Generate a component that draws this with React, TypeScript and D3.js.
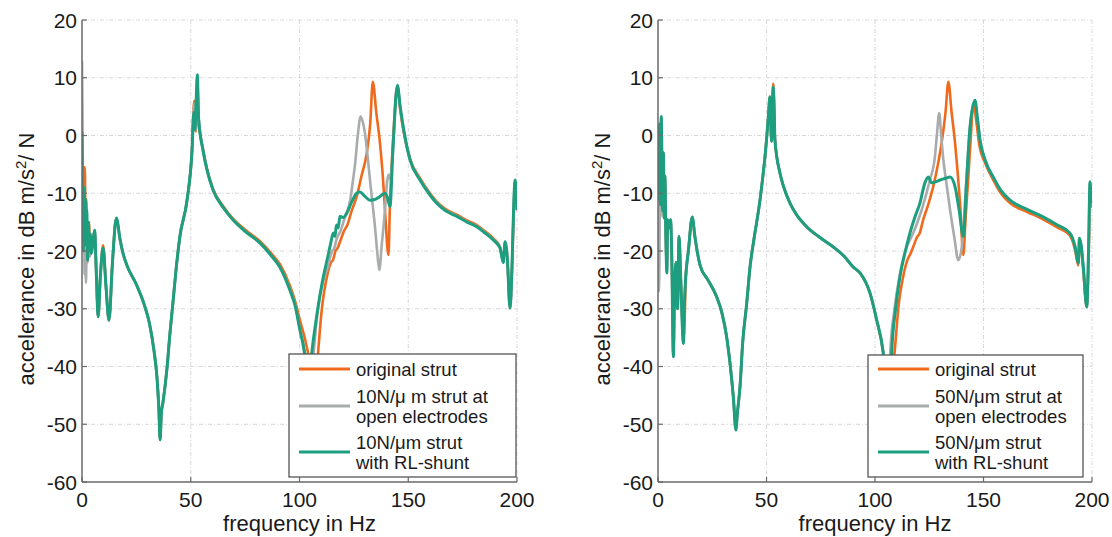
import React from "react";
import * as d3 from "d3";

// ---------- data (frequency Hz, dB) ----------
const xTicks = [0, 50, 100, 150, 200];
const yTicks = [-60, -50, -40, -30, -20, -10, 0, 10, 20];

// LEFT PANEL (10 N/um)
const leftOriginal: [number, number][] = [
  [0, -2], [0.4, -12], [0.8, -5.5], [1.3, -5.5], [1.6, -14], [2.0, -11], [2.4, -19], [2.8, -21], [3.2, -15], [3.6, -20],
  [4.3, -20], [5.0, -18.6], [5.8, -16.4], [6.6, -24], [7.4, -31.4], [8.5, -24], [9.7, -19], [11, -26], [12.4, -32],
  [14, -22], [15.8, -14.3], [17.5, -18], [19, -20.6], [21, -22.8], [25, -25.8], [28.8, -29.5], [31, -32.5], [33, -37],
  [34.5, -42], [35.3, -47], [35.9, -52.5], [36.5, -48], [37.2, -46.3], [39, -40.6], [40.5, -34], [41.8, -29],
  [43.3, -23], [45, -17.5], [48.3, -11.2], [50.6, -2.5], [51.6, 6], [52.4, 0.7], [53, 9.5], [53.6, 3], [55.6, -2.3],
  [57.5, -5.8], [60.2, -9.2], [65, -12.3], [69.4, -14.4], [75, -16.3], [81.8, -18.3], [87, -20.4], [91, -22.3],
  [95.6, -26], [98, -28.7], [100.2, -32], [103, -36], [105, -40], [106.5, -46], [107.5, -42], [108.5, -37.8], [110, -31],
  [113, -23.8], [114.5, -22], [115.5, -21.5], [116.5, -20], [117.5, -19.5], [119, -18], [120.5, -16.5], [122, -15.5],
  [124, -13], [126.3, -10.6], [128.5, -7], [130.9, -3.1], [132.5, 2], [133.7, 9.3], [135.3, 4], [137, -1.3],
  [138.3, -7], [139.3, -12.9], [140.9, -20.7], [141.6, -11.7], [143, -1], [145, 8.5], [146.3, 4.5], [147.7, 1],
  [150.8, -4], [155.4, -7.4], [160, -10], [163, -11.4], [167, -12.7], [172.3, -13.7], [177, -14.7], [181.5, -15.5],
  [185, -16.5], [189.1, -17.8], [192.2, -19.3], [193.7, -21.8], [194.5, -18.6], [195.5, -21], [196.8, -29.9],
  [197.6, -24], [198.5, -13], [199.1, -8], [199.6, -9.5], [200, -13],
];

const leftOpen: [number, number][] = [
  [0, 13], [0.2, 5], [0.4, -8], [0.6, -20], [0.9, -12], [1.2, -24], [1.5, -16], [1.8, -25.5], [2.2, -19], [2.6, -22],
  [3.0, -17], [3.5, -21], [4.3, -20], [5.0, -18.6], [5.8, -16.5], [6.6, -24], [7.4, -31.4], [8.5, -24], [9.7, -19.5],
  [11, -26], [12.4, -32], [14, -22], [15.8, -14.3], [17.5, -18], [19, -20.6], [21, -22.8], [25, -25.8], [28.8, -29.5],
  [31, -32.5], [33, -37], [34.5, -42], [35.3, -47], [35.9, -52.7], [36.5, -48], [37.2, -46.3], [39, -40.6],
  [40.5, -34], [41.8, -29], [43.3, -23], [45, -17.5], [48.3, -11.2], [50.6, -2.5], [51.6, 5.5], [52.4, 1], [53, 9.8],
  [53.6, 3], [55.6, -2.5], [57.5, -6], [60.2, -9.4], [65, -12.5], [69.4, -14.6], [75, -16.6], [81.8, -18.6],
  [87, -20.8], [91, -22.8], [95.6, -26.6], [98, -29.3], [100.2, -33.5], [102.5, -37.5], [105, -46], [106, -40],
  [106.5, -37.7], [108.5, -30], [111, -25], [113, -22.8], [115, -20], [116, -19.5], [117, -18], [119, -16.4],
  [121, -14], [123.3, -11.2], [124.5, -8], [125.6, -4.8], [126.8, 0], [128.1, 3.3], [129, 2.5], [130.1, 0.4],
  [131.3, -3.5], [132.4, -7.7], [133.5, -11.5], [134.7, -15.8], [135.7, -20], [136.7, -23.3], [137.8, -19],
  [139.3, -12.9], [140.3, -8], [140.9, -6.8], [141.6, -7.5], [142.5, -5], [145, 8.6], [146.3, 4.8], [147.7, 1.3],
  [150.8, -4.1], [155.4, -7.6], [160, -10.2], [163, -11.6], [167, -12.9], [172.3, -13.9], [177, -14.9],
  [181.5, -15.7], [185, -16.7], [189.1, -18], [192.2, -19.4], [193.7, -22], [194.5, -18.4], [195.5, -21],
  [196.8, -29.9], [197.6, -24], [198.5, -12], [199.1, -7.7], [199.6, -9], [200, -12.9],
];

const leftShunt: [number, number][] = [
  [0, 0.6], [0.3, -12], [0.6, -20], [0.9, -9], [1.2, -16], [1.5, -11], [1.9, -19], [2.2, -13], [2.6, -21.6], [3.0, -15],
  [3.4, -20], [3.8, -17], [4.3, -20.4], [5.0, -18.6], [5.8, -16.4], [6.6, -24], [7.4, -31.4], [8.5, -24], [9.7, -19.5],
  [11, -26], [12.4, -32], [14, -22], [15.8, -14.3], [17.5, -18], [19, -20.6], [21, -22.8], [25, -25.8], [28.8, -29.5],
  [31, -32.5], [33, -37], [34.5, -42], [35.3, -47], [35.9, -52.7], [36.5, -48], [37.2, -46.3], [39, -40.6],
  [40.5, -34], [41.8, -29], [43.3, -23], [45, -17.5], [48.3, -11.2], [50.6, -2.5], [51.4, 4], [51.9, 1], [52.4, 5],
  [53, 10.5], [53.6, 3], [55.6, -2.5], [57.5, -6], [60.2, -9.4], [65, -12.5], [69.4, -14.6], [75, -16.6],
  [81.8, -18.6], [87, -20.8], [91, -22.8], [95.6, -26.8], [98, -29.5], [100.2, -33.7], [102, -37], [103, -40],
  [104, -45], [105, -40], [106, -36.5], [108, -31], [111, -24.4], [113, -21], [114.5, -18.4], [115.5, -16.9],
  [116.3, -17.5], [117, -15.5], [117.8, -16], [118.6, -14], [120, -14.2], [121.7, -13.5], [124, -11.5],
  [126.3, -10], [127.8, -9.8], [130, -10.5], [132.4, -11.2], [135, -11], [136.9, -10.6], [139.3, -10],
  [140.5, -10.8], [141.6, -12.3], [143, -2], [145, 8.7], [146.3, 5], [147.7, 1.5], [150.8, -4.2], [155.4, -7.7],
  [160, -10.3], [163, -11.7], [167, -13], [172.3, -14], [177, -15], [181.5, -15.8], [185, -16.8], [189.1, -18.1],
  [192.2, -19.5], [193.7, -22], [194.5, -18.4], [195.5, -21], [196.8, -29.9], [197.6, -24], [198.5, -12],
  [199.1, -7.7], [199.6, -9], [200, -12.9],
];

// RIGHT PANEL (50 N/um)
const rightOriginal: [number, number][] = [
  [0, -11], [0.2, 1.5], [0.5, -8], [0.8, 2], [1.1, -12], [1.5, 3], [1.8, -4], [2.2, -13], [2.5, -3], [2.8, -14.3],
  [3.2, -7], [3.6, -17], [4.1, -23], [4.4, -14.6], [5.0, -16], [5.8, -14.6], [6.3, -20], [7.1, -38], [7.6, -27],
  [8.3, -22], [9.0, -30], [9.7, -17.5], [10.5, -25], [11.7, -35], [12.3, -31.5], [12.8, -24.4], [14, -20],
  [15.8, -14.1], [17, -17.5], [19.4, -22.5], [23, -25], [27, -27.9], [29.5, -30.8], [31.6, -34.8], [33.2, -39.5],
  [34.7, -45.2], [35.9, -50.5], [36.6, -48], [37.8, -43.5], [39, -36], [40.9, -29], [42.4, -22.8],
  [44.2, -18], [47, -11.2], [50, -0.8], [50.8, 3], [51.6, 6.7], [52.3, -1], [53.1, 9], [53.5, 5], [53.9, -0.8],
  [56.2, -6.5], [58, -9], [60.8, -11.7], [64, -13.8], [68.5, -15.8], [74, -17.5], [80.8, -19.3], [86, -21],
  [90, -22.8], [93.1, -23.8], [97.7, -27.3], [100.8, -32], [103.8, -37.5], [106.5, -46], [107.5, -50],
  [108.4, -40], [109, -37.7], [111, -29], [113, -24.4], [115, -21.5], [116.3, -20.5], [117.6, -19.3],
  [119.5, -17.5], [120.5, -17], [122.2, -14.6], [124.5, -12], [126.8, -8.9], [129, -5], [130.7, -1.3], [132.5, 4],
  [133.8, 9.3], [135.3, 4], [136.9, -1.3], [138, -6], [139.2, -11.7], [140.7, -20.7], [141.8, -14], [143, -7.2],
  [144.2, 0], [145.3, 5.5], [146.5, 3], [148, -1.5], [151, -5], [154.5, -7.7], [158, -10], [162.2, -11.7],
  [170, -13.2], [177.4, -14.5], [184, -15.9], [189.8, -17.3], [192.2, -19.8], [193.7, -22.5], [194.2, -18.5],
  [195, -19.5], [196, -23.5], [197.6, -29.7], [198.4, -22], [199.1, -10], [199.5, -11], [200, -12.5],
];

const rightOpen: [number, number][] = [
  [0, -12], [0.3, -27], [0.6, -24], [0.9, -10], [1.2, -14], [1.5, 2], [1.8, -6], [2.2, -13], [2.5, -4], [2.8, -14],
  [3.2, -8], [3.6, -17], [4.1, -23.8], [4.4, -14.6], [5.0, -16], [5.8, -14.6], [6.3, -20], [7.1, -38.3], [7.6, -27],
  [8.3, -22], [9.0, -30], [9.7, -17.5], [10.5, -25], [11.7, -36], [12.3, -28], [12.8, -24.4], [14, -20],
  [15.8, -14.1], [17, -17.5], [19.4, -22.5], [23, -25], [27, -27.9], [29.5, -30.8], [31.6, -34.8], [33.2, -39.5],
  [34.7, -45.2], [35.9, -51], [36.6, -48], [37.8, -43.5], [39, -36], [40.9, -29], [42.4, -22.8],
  [44.2, -18], [47, -11.2], [50, -0.8], [50.8, 3], [51.6, 6.5], [52.3, -1], [53.1, 8.4], [53.5, 5], [53.9, -0.8],
  [56.2, -6.5], [58, -9], [60.8, -11.7], [64, -13.8], [68.5, -15.8], [74, -17.5], [80.8, -19.3], [86, -21],
  [90, -22.8], [93.1, -23.8], [97.7, -27.3], [100.8, -32], [103.8, -37.5], [105.5, -44], [106.2, -48], [107, -37.7],
  [109, -30], [111.5, -24], [114, -20], [117.6, -16.9], [121.5, -12.9], [125.3, -7.7], [127.6, -3.7],
  [128.5, 0], [129.6, 3.9], [130.5, 0], [131.5, -4.2], [133, -8.5], [134.6, -12.9], [136.5, -17.5],
  [138.4, -21.6], [140, -19.3], [141.9, -8.9], [143.8, 1.5], [146.1, 6], [147.2, 3], [148.4, -0.8], [151, -4.5],
  [154.5, -7.2], [158, -9.5], [162.2, -11.2], [170, -12.8], [177.4, -14.1], [184, -15.5], [189.8, -16.9],
  [192.2, -19.3], [193.7, -22.1], [194.2, -17.8], [195, -19], [196, -22.8], [197.6, -29.7], [198.4, -20],
  [199.1, -8], [199.5, -10], [200, -11.7],
];

const rightShunt: [number, number][] = [
  [0, -11.2], [0.2, 1.8], [0.5, -8], [0.8, 2], [1.1, -12], [1.5, 3.3], [1.8, -4], [2.2, -13], [2.5, -3], [2.8, -14.3],
  [3.2, -7], [3.6, -17], [4.1, -23.8], [4.4, -14.6], [5.0, -16], [5.8, -14.6], [6.3, -20], [7.1, -38.3], [7.6, -27],
  [8.3, -22], [9.0, -30], [9.7, -17.5], [10.5, -25], [11.7, -36], [12.3, -28], [12.8, -24.4], [14, -20],
  [15.8, -14.1], [17, -17.5], [19.4, -22.5], [23, -25], [27, -27.9], [29.5, -30.8], [31.6, -34.8], [33.2, -39.5],
  [34.7, -45.2], [35.9, -51], [36.6, -48], [37.8, -43.5], [39, -36], [40.9, -29], [42.4, -22.8],
  [44.2, -18], [47, -11.2], [50, -0.8], [50.8, 3], [51.6, 6.7], [52.3, -1], [53.1, 8.4], [53.5, 5], [53.9, -0.8],
  [56.2, -6.5], [58, -9], [60.8, -11.7], [64, -13.8], [68.5, -15.8], [74, -17.5], [80.8, -19.3], [86, -21],
  [90, -22.8], [93.1, -23.8], [97.7, -27.3], [100.8, -32], [103.8, -37.7], [105.5, -45], [106.4, -50],
  [107.2, -45], [107.7, -37.7], [109.5, -30], [111.5, -24.4], [114, -20], [116.1, -16.9], [118.5, -14],
  [120.7, -11.7], [123, -8.2], [124.6, -7.2], [126.1, -8.2], [128, -8], [130, -7.7], [132.5, -7.4], [134.6, -7.2],
  [136.9, -8.9], [138.8, -13], [140.7, -17.5], [142.2, -8], [143.8, 1.5], [146.1, 6.1], [147.2, 3], [148.4, -0.8],
  [151, -4.5], [154.5, -7.2], [158, -9.5], [162.2, -11.2], [170, -12.8], [177.4, -14.1], [184, -15.5],
  [189.8, -16.9], [192.2, -19.3], [193.7, -22.1], [194.2, -17.8], [195, -19], [196, -22.8], [197.6, -29.7],
  [198.4, -20], [199.1, -8], [199.5, -10], [200, -11.7],
];

const leftLegend = [
  ["original strut"],
  ["10N/\u03bc m strut at", "open electrodes"],
  ["10N/\u03bcm strut", "with RL-shunt"],
];
const rightLegend = [
  ["original strut"],
  ["50N/\u03bcm strut at", "open electrodes"],
  ["50N/\u03bcm strut", "with RL-shunt"],
];

// ---------- styles ----------
const COLORS = ["#EF6A1C", "#A9ACAC", "#1C9E7F"];
const WIDTHS = [2.6, 2.6, 3];
const FONT = "'Liberation Sans', Arial, Helvetica, sans-serif";
const AXIS = "#6a6a6a";

type PanelProps = {
  id: string;
  x0: number;
  x1: number;
  series: [number, number][][];
  legend: string[][];
  legendBox: { x: number; y: number; w: number; h: number };
  labelX: number;
};

function Panel({ id, x0, x1, series, legend, legendBox, labelX }: PanelProps) {
  const y0 = 20;
  const y1 = 482;
  const x = d3.scaleLinear().domain([0, 200]).range([x0, x1]);
  const y = d3.scaleLinear().domain([-60, 20]).range([y1, y0]);
  const line = d3
    .line<[number, number]>()
    .x((d) => x(d[0]))
    .y((d) => y(d[1]))
    .curve(d3.curveMonotoneX);

  const rowLines = [369, 406, 452];
  const rowTexts = [[376], [403, 423], [448.5, 468.5]];

  return (
    <g>
      <defs>
        <clipPath id={id}>
          <rect x={x0} y={y0} width={x1 - x0} height={y1 - y0} />
        </clipPath>
      </defs>
      {/* grid */}
      {xTicks.filter((t) => t > 0).map((t) => (
        <line key={"gx" + t} x1={x(t)} x2={x(t)} y1={y0} y2={y1} stroke="#d8d8d8" strokeWidth={1} strokeDasharray="4 2 1 2" />
      ))}
      {yTicks.filter((t) => t > -60).map((t) => (
        <line key={"gy" + t} x1={x0} x2={x1} y1={y(t)} y2={y(t)} stroke="#d8d8d8" strokeWidth={1} strokeDasharray="4 2 1 2" />
      ))}
      {/* data */}
      <g clipPath={`url(#${id})`}>
        {series.map((s, i) => (
          <path key={i} d={line(s) || ""} fill="none" stroke={COLORS[i]} strokeWidth={WIDTHS[i]} strokeLinejoin="round" />
        ))}
      </g>
      {/* axes */}
      <line x1={x0} x2={x0} y1={y0} y2={y1} stroke={AXIS} strokeWidth={1.5} />
      <line x1={x0} x2={x1} y1={y1} y2={y1} stroke={AXIS} strokeWidth={1.5} />
      {xTicks.map((t) => (
        <g key={"tx" + t}>
          <line x1={x(t)} x2={x(t)} y1={y1} y2={y1 - 5} stroke={AXIS} strokeWidth={1.2} />
          <text x={x(t)} y={507} textAnchor="middle" fontFamily={FONT} fontSize={21} fill="#1a1a1a">
            {t}
          </text>
        </g>
      ))}
      {yTicks.map((t) => (
        <g key={"ty" + t}>
          <line x1={x0} x2={x0 + 5} y1={y(t)} y2={y(t)} stroke={AXIS} strokeWidth={1.2} />
          <text x={x0 - 5} y={y(t)} dy="0.36em" textAnchor="end" fontFamily={FONT} fontSize={21} fill="#1a1a1a">
            {t}
          </text>
        </g>
      ))}
      {/* axis labels */}
      <text x={(x0 + x1) / 2} y={531} textAnchor="middle" fontFamily={FONT} fontSize={22} fill="#1a1a1a">
        frequency in Hz
      </text>
      <text
        transform={`translate(${labelX},259) rotate(-90)`}
        textAnchor="middle"
        fontFamily={FONT}
        fontSize={22}
        fill="#1a1a1a"
      >
        <tspan>accelerance in dB m/s</tspan>
        <tspan dy={-8} fontSize={15}>2</tspan>
        <tspan dy={8}>/ N</tspan>
      </text>
      {/* legend */}
      <rect
        x={legendBox.x}
        y={legendBox.y}
        width={legendBox.w}
        height={legendBox.h}
        fill="#ffffff"
        stroke="#555"
        strokeWidth={1.3}
      />
      {legend.map((rows, i) => (
        <g key={"lg" + i}>
          <line
            x1={legendBox.x + 10}
            x2={legendBox.x + 61}
            y1={rowLines[i]}
            y2={rowLines[i]}
            stroke={COLORS[i]}
            strokeWidth={3}
          />
          {rows.map((r, j) => (
            <text key={j} x={legendBox.x + 67} y={rowTexts[i][j]} fontFamily={FONT} fontSize={18.5} fill="#1a1a1a">
              {r}
            </text>
          ))}
        </g>
      ))}
    </g>
  );
}

export default function App() {
  return (
    <svg
      width={1112}
      height={537}
      viewBox="0 0 1112 537"
      style={{ position: "absolute", left: 0, top: 0, background: "#fff" }}
    >
      <rect x={0} y={0} width={1112} height={537} fill="#fff" />
      <Panel
        id="clipL"
        x0={82}
        x1={517}
        series={[leftOriginal, leftOpen, leftShunt]}
        legend={leftLegend}
        legendBox={{ x: 289, y: 354, w: 227, h: 123 }}
        labelX={34}
      />
      <Panel
        id="clipR"
        x0={658}
        x1={1092}
        series={[rightOriginal, rightOpen, rightShunt]}
        legend={rightLegend}
        legendBox={{ x: 868, y: 355, w: 215, h: 122 }}
        labelX={610}
      />
    </svg>
  );
}
